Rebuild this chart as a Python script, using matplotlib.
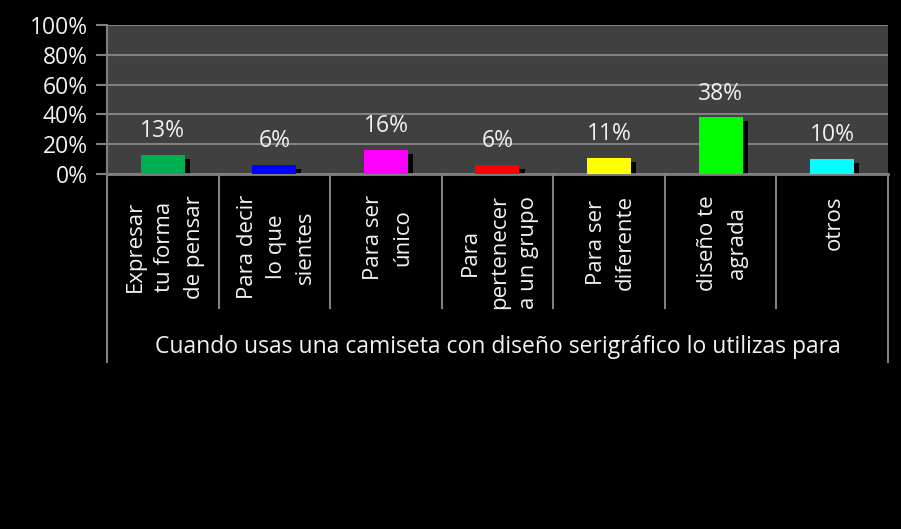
import matplotlib
matplotlib.use('Agg')
import numpy as np
import matplotlib.pyplot as plt
import matplotlib.transforms as mtransforms

# datos del grafico
categorias = ["Expresar\ntu forma\nde pensar", "Para decir\nlo que\nsientes",
              "Para ser\núnico", "Para\npertenecer\na un grupo",
              "Para ser\ndiferente", "diseño te\nagrada", "otros"]
valores = [0.13, 0.06, 0.16, 0.06, 0.11, 0.38, 0.10]
colores = ["#00b050", "#0000ff", "#ff00ff", "#ff0000", "#ffff00", "#00ff00", "#00ffff"]
yticks = [0, 0.2, 0.4, 0.6, 0.8, 1.0]
titulo = "Cuando usas una camiseta con diseño serigráfico lo utilizas para"

plt.rcParams['font.family'] = ['Open Sans', 'DejaVu Sans']
texto = '#f2f2f2'
gris = '#808080'

W, H = 901, 529
fig = plt.figure(figsize=(W / 100, H / 100), dpi=100)
fig.patch.set_facecolor('black')

x0, x1, ytop, ybot = 107, 888, 25, 174
ax = fig.add_axes([x0 / W, 1 - ybot / H, (x1 - x0) / W, (ybot - ytop) / H])
ax.set_facecolor('#404040')

n = len(valores)
x = np.arange(n)
px_x = (x1 - x0) / n          # pixeles por categoria
px_y = (ybot - ytop)          # pixeles por unidad en y
ancho = 44 / px_x

# sombras
ax.bar(x + 5 / px_x, np.array(valores) - 4 / px_y, width=ancho, color='black', zorder=2)
ax.bar(x, valores, width=ancho, color=colores, zorder=3)

for xi, v in zip(x, valores):
    ax.annotate(f"{round(v * 100)}%", (xi, v), xytext=(0, 8.5), textcoords='offset points',
                ha='center', va='bottom', color=texto, fontsize=16.5, zorder=4)

ax.set_xlim(-0.5, n - 0.5)
ax.set_ylim(0, 1)
ax.set_yticks(yticks)
ax.set_yticklabels([f"{int(t * 100)}%" for t in yticks], color=texto, fontsize=16.5)
ax.yaxis.grid(True, color=gris, linewidth=1.5, zorder=1)
ax.set_axisbelow(True)
ax.tick_params(axis='y', length=8, width=1.5, color=gris, pad=6)
ax.set_xticks([])
for s in ['top', 'right']:
    ax.spines[s].set_visible(False)
ax.spines['left'].set_color(gris)
ax.spines['left'].set_linewidth(1.5)
ax.spines['bottom'].set_color(gris)
ax.spines['bottom'].set_linewidth(2)

# lineas de separacion bajo el eje
trans = mtransforms.blended_transform_factory(ax.transData, ax.transAxes)
bordes = np.arange(n + 1) - 0.5
for i, b in enumerate(bordes):
    fondo = 362 if i in (0, n) else 308
    ax.plot([b, b], [0, -(fondo - ybot) / px_y], transform=trans, color=gris,
            linewidth=1.5, clip_on=False)

for xi, c in zip(x, categorias):
    ax.text(xi + 2 / px_x, -(195 - ybot) / px_y, c, transform=trans, rotation=90, ha='center',
            va='top', multialignment='center', color=texto, fontsize=16, linespacing=1.52)

ax.text(0.5, -(347 - ybot) / px_y, titulo, transform=ax.transAxes, ha='center',
        va='center', color=texto, fontsize=16.5)

fig.savefig('out.png', dpi=100, facecolor='black')
